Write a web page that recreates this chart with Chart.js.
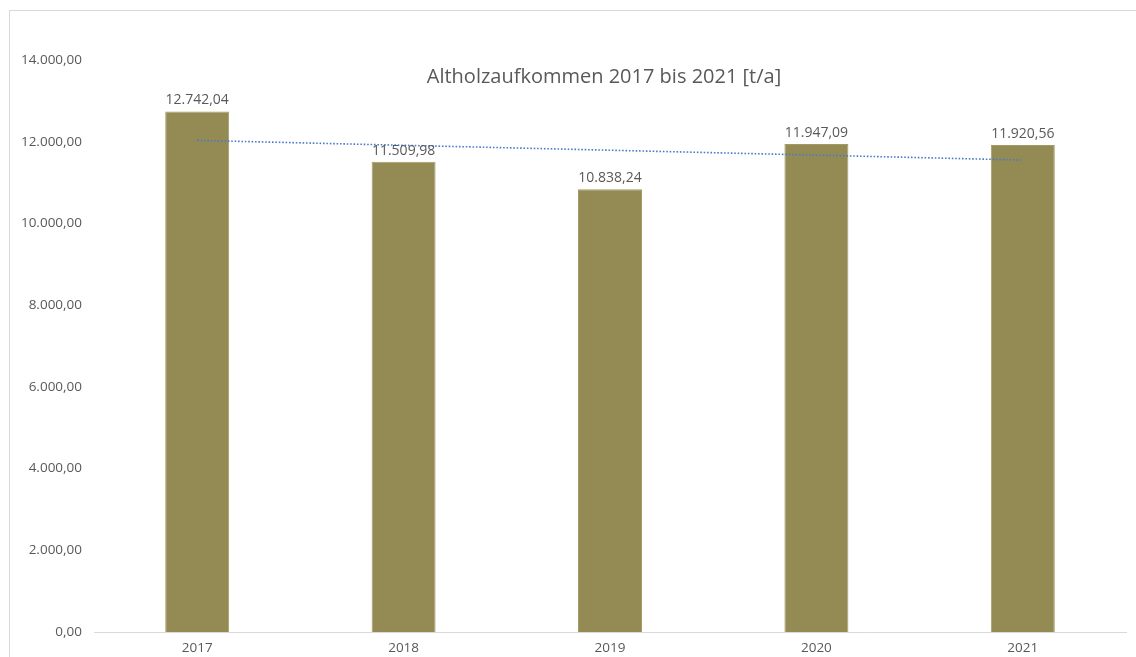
<!DOCTYPE html>
<html lang="de">
<head>
    <meta charset="UTF-8">
    <title>Altholzaufkommen 2017 bis 2021</title>
    <style>
        body {
            margin: 0;
            background: #ffffff;
        }
        #chart {
            display: block;
        }
    </style>
</head>
<body>
    <canvas id="chart" width="1136" height="657"></canvas>

    <script src="https://cdn.jsdelivr.net/npm/chart.js"></script>
    <script>
        const years = ['2017', '2018', '2019', '2020', '2021'];
        const tonnes = [12742.04, 11509.98, 10838.24, 11947.09, 11920.56];
        const chartTitle = 'Altholzaufkommen 2017 bis 2021 [t/a]';

        const fontFamily = '"Open Sans", "Noto Sans", sans-serif';
        const textGray = '#595959';

        // German number format: 12.742,04
        function fmt(v) {
            const parts = v.toFixed(2).split('.');
            return parts[0].replace(/\B(?=(\d{3})+(?!\d))/g, '.') + ',' + parts[1];
        }

        // linear trend (least squares) over the yearly values
        function linearTrend(values) {
            const n = values.length;
            const mx = (n - 1) / 2;
            const my = values.reduce((a, b) => a + b, 0) / n;
            let sxy = 0, sxx = 0;
            values.forEach((y, x) => {
                sxy += (x - mx) * (y - my);
                sxx += (x - mx) * (x - mx);
            });
            const slope = sxy / sxx;
            return values.map((_, x) => my + slope * (x - mx));
        }

        // frame, title and value labels
        const decorations = {
            id: 'decorations',
            beforeDraw(chart) {
                const ctx = chart.ctx;
                ctx.save();
                ctx.strokeStyle = '#d9d9d9';
                ctx.lineWidth = 1;
                ctx.strokeRect(9.5, 10.5, 1300, 800);
                ctx.restore();
            },
            afterDatasetsDraw(chart) {
                const ctx = chart.ctx;
                ctx.save();
                ctx.fillStyle = textGray;
                ctx.textAlign = 'center';
                ctx.textBaseline = 'middle';
                ctx.font = '20px ' + fontFamily;
                ctx.fillText(chartTitle, 604, 77);

                ctx.font = '14px ' + fontFamily;
                ctx.textBaseline = 'bottom';
                const meta = chart.getDatasetMeta(1);
                meta.data.forEach((bar, i) => {
                    ctx.fillText(fmt(tonnes[i]), bar.x, bar.y - 4);
                });
                ctx.restore();
            }
        };

        new Chart(document.getElementById('chart'), {
            data: {
                labels: years,
                datasets: [
                    {
                        type: 'line',
                        label: 'Linear (Altholz)',
                        data: linearTrend(tonnes),
                        borderColor: '#4a7bc8',
                        borderWidth: 1.6,
                        borderDash: [1.6, 1.8],
                        pointRadius: 0,
                        fill: false,
                        order: 0
                    },
                    {
                        type: 'bar',
                        label: 'Altholz',
                        data: tonnes,
                        backgroundColor: '#948a54',
                        borderColor: '#a39a68',
                        borderWidth: 1,
                        categoryPercentage: 1,
                        barPercentage: 0.31,
                        order: 1
                    }
                ]
            },
            options: {
                responsive: false,
                animation: false,
                layout: {
                    padding: { top: 60, right: 10, left: 0, bottom: 0 }
                },
                plugins: {
                    legend: { display: false },
                    tooltip: { enabled: false }
                },
                scales: {
                    x: {
                        grid: { display: false, drawTicks: false },
                        border: { display: true, color: '#d9d9d9', width: 1 },
                        ticks: {
                            color: textGray,
                            padding: 8,
                            font: { family: fontFamily, size: 13.5 }
                        },
                        afterFit(scale) { scale.height = 25; }
                    },
                    y: {
                        min: 0,
                        max: 14000,
                        grid: { display: false, drawTicks: false },
                        border: { display: false },
                        ticks: {
                            stepSize: 2000,
                            color: textGray,
                            padding: 12,
                            font: { family: fontFamily, size: 13.5 },
                            callback: v => fmt(v)
                        },
                        afterFit(scale) { scale.width = 94; }
                    }
                }
            },
            plugins: [decorations]
        });
    </script>
</body>
</html>
